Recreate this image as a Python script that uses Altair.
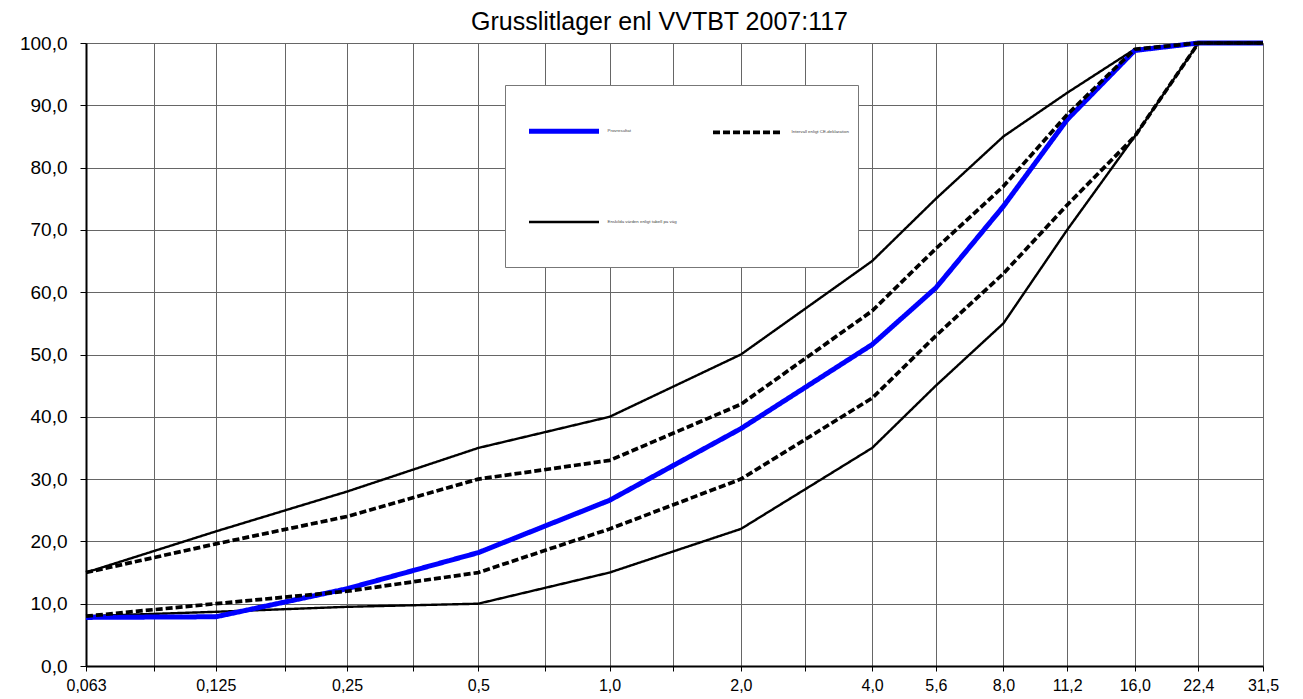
import altair as alt
import pandas as pd

# Sieve sizes (mm) with measured passing values (%)
sieves = [0.063, 0.125, 0.25, 0.5, 1.0, 2.0, 4.0, 5.6, 8.0, 11.2, 16.0, 22.4, 31.5]
provresultat = [7.8, 7.9, 12.4, 18.2, 26.6, 38.1, 51.6, 60.7, 73.8, 87.7, 98.8, 100.0, 100.0]
ce_upper = [15.0, 19.6, 24.0, 30.0, 33.0, 42.0, 57.0, 67.0, 77.0, 88.5, 99.0, 100.0, 100.0]
ce_lower = [8.0, 10.0, 12.0, 15.0, 22.0, 30.0, 43.0, 53.0, 63.0, 74.0, 85.0, 100.0, 100.0]
ensk_upper = [15.0, 21.6, 28.0, 35.0, 40.0, 50.0, 65.0, 75.0, 85.0, 92.0, 99.0, 100.0, 100.0]
ensk_lower = [8.0, 8.7, 9.5, 10.0, 15.0, 22.0, 35.0, 45.0, 55.0, 70.0, 85.0, 100.0, 100.0]

series_names = [
    "Provresultat",
    "Intervall enligt CE-deklaration",
    "Enskilda värden enligt tabell på väg",
]
series_colors = ["#0000FF", "#000000", "#000000"]
series_dash = [[1, 0], [7, 3], [1, 0]]
series_width = [5.0, 2.4, 2.4]

tick_values = [0.063, 0.09, 0.125, 0.18, 0.25, 0.355, 0.5, 0.71, 1.0, 1.4, 2.0,
               2.8, 4.0, 5.6, 8.0, 11.2, 16.0, 22.4, 31.5]
tick_labels = ["0,063", "", "0,125", "", "0,25", "", "0,5", "", "1,0", "", "2,0",
               "", "4,0", "5,6", "8,0", "11,2", "16,0", "22,4", "31,5"]
y_ticks = [0, 10, 20, 30, 40, 50, 60, 70, 80, 90, 100]

title_text = "Grusslitlager enl VVTBT 2007:117"

rows = []
for name, line_id, vals in [
    (series_names[2], "ensk_upper", ensk_upper),
    (series_names[2], "ensk_lower", ensk_lower),
    (series_names[0], "prov", provresultat),
    (series_names[1], "ce_upper", ce_upper),
    (series_names[1], "ce_lower", ce_lower),
]:
    for s, v in zip(sieves, vals):
        rows.append({"series": name, "line": line_id, "sieve": s, "value": v})
df = pd.DataFrame(rows)

label_expr = " : ".join(
    f"datum.value == {v} ? '{l}'" for v, l in zip(tick_values, tick_labels)
) + " : ''"

legend = alt.Legend(
    title=" ",
    titleOrient="bottom",
    titleFontSize=8,
    titlePadding=24,
    orient="none",
    legendX=419,
    legendY=42,
    direction="horizontal",
    columns=2,
    symbolType="stroke",
    symbolSize=4900,
    symbolOffset=13,
    labelFontSize=4.4,
    labelFont="Liberation Sans",
    labelColor="#444444",
    labelOffset=6,
    rowPadding=44,
    columnPadding=20,
    padding=8.5,
    strokeColor="#777777",
    fillColor="white",
)

x_enc = alt.X(
    "sieve:Q",
    scale=alt.Scale(type="log", domain=[0.063, 31.5], nice=False),
    axis=alt.Axis(
        values=tick_values,
        labelExpr=label_expr,
        title=None,
        labelFontSize=16,
        tickSize=5,
        labelPadding=6,
        labelAngle=0,
        labelOverlap=False,
        labelFlush=False,
        domainWidth=2,
    ),
)
y_enc = alt.Y(
    "value:Q",
    scale=alt.Scale(domain=[0, 100], nice=False),
    axis=alt.Axis(
        values=y_ticks,
        labelExpr="replace(format(datum.value, '.1f'), '.', ',')",
        title=None,
        labelFontSize=19,
        tickSize=6,
        labelPadding=13,
        domainWidth=2,
    ),
)
color_enc = alt.Color("series:N", scale=alt.Scale(domain=series_names, range=series_colors), legend=legend)
dash_enc = alt.StrokeDash("series:N", scale=alt.Scale(domain=series_names, range=series_dash), legend=legend)
width_enc = alt.StrokeWidth("series:N", scale=alt.Scale(domain=series_names, range=series_width), legend=legend)

base = alt.Chart(df).mark_line(strokeJoin="round").encode(
    x=x_enc, y=y_enc, color=color_enc, strokeDash=dash_enc, strokeWidth=width_enc, detail="line:N"
)

layers = [
    base.transform_filter(alt.datum.series == series_names[2]),
    base.transform_filter(alt.datum.series == series_names[0]),
    base.transform_filter(alt.datum.series == series_names[1]),
]

chart = alt.layer(*layers).properties(
    width=1177,
    height=623,
    autosize=alt.AutoSizeParams(type="none"),
    padding={"left": 78, "top": 35, "right": 30, "bottom": 28},
    title=alt.TitleParams(
        title_text,
        fontSize=25,
        fontWeight="normal",
        font="Liberation Sans",
        color="black",
        anchor="middle",
        dx=-15,
        offset=-1,
    ),
).configure_view(stroke=None).configure_axis(
    gridColor="#666666",
    gridWidth=1,
    gridOpacity=1,
    domainColor="black",
    tickColor="black",
    labelFont="Liberation Sans",
    labelColor="black",
)

chart.save("out.html", embed_options={"renderer": "svg", "actions": False})
